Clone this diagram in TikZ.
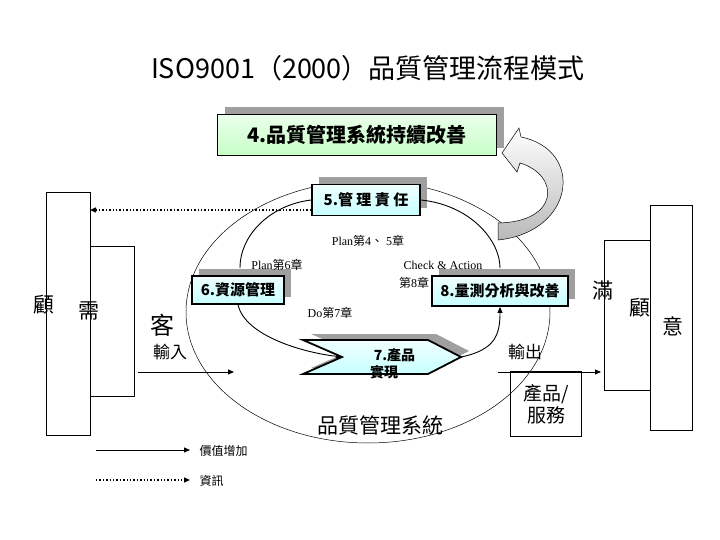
\documentclass[tikz,border=0pt]{standalone}
\usepackage{fontspec}
\setmainfont{Liberation Serif}
\newfontfamily\cjk{Noto Sans CJK TC}
\usetikzlibrary{shadows,arrows.meta}
\begin{document}
\begin{tikzpicture}[x=1pt,y=-1pt,
  sbox/.style={draw=black,line width=1.8pt,inner sep=0pt,
    top color=cyan!6,bottom color=cyan!22,
    drop shadow={shadow xshift=7pt,shadow yshift=7pt,fill=gray!75,opacity=1},
    font=\cjk\bfseries},
  lab/.style={font=\fontsize{12}{14}\selectfont},
  big/.style={font=\cjk\fontsize{21}{24}\selectfont},
  arr/.style={-{Triangle[length=6pt,width=5pt]},line width=0.9pt},
  loop/.style={line width=0.9pt},
  plain/.style={draw=black,line width=0.7pt}]
\useasboundingbox (0,0) rectangle (720,540);
\node[font=\cjk\fontsize{27}{30}\selectfont] (title) at (368,68) {ISO9001（2000）品質管理流程模式};
% outer ellipse
\draw[line width=0.5pt] (368,312) ellipse [x radius=182, y radius=131];
% feedback arrow
\shade[top color=white,bottom color=gray!55,draw=black,line width=0.5pt]
  (498,240) .. controls (575,232) and (585,150) .. (521,137) -- (519,128) -- (502,153) -- (517,172) -- (520,163)
  .. controls (560,175) and (560,222) .. (498,223) -- cycle;
\node[sbox,top color=green!8,bottom color=green!22,minimum width=279pt,minimum height=41pt,font=\cjk\bfseries\fontsize{20}{22}\selectfont] (b4) at (357,135) {4.品質管理系統持續改善};
\node[sbox,minimum width=108pt,minimum height=31pt,font=\cjk\bfseries\fontsize{15}{17}\selectfont] (b5) at (366,200) {5.管 理 責 任};
\node[sbox,minimum width=92pt,minimum height=28pt,font=\cjk\bfseries\fontsize{15}{17}\selectfont] (b6) at (238,290) {6.資源管理};
\node[sbox,minimum width=136pt,minimum height=30pt,font=\cjk\bfseries\fontsize{15}{17}\selectfont] (b8) at (500,291) {8.量測分析與改善};
% box 7
\coordinate (p1) at (303,340); \coordinate (p2) at (428,340); \coordinate (p3) at (461,357);
\coordinate (p4) at (428,374); \coordinate (p5) at (303,374); \coordinate (p6) at (342,357);
\fill[gray!75] ([shift={(8,-6)}]p1) -- ([shift={(8,-6)}]p2) -- ([shift={(8,-6)}]p3) -- ([shift={(8,-6)}]p4) -- ([shift={(8,-6)}]p5) -- ([shift={(8,-6)}]p6) -- cycle;
\draw[line width=1.8pt,top color=cyan!6,bottom color=cyan!22] (p1) -- (p2) -- (p3) -- (p4) -- (p5) -- (p6) -- cycle;
\node[font=\cjk\bfseries\fontsize{14}{17}\selectfont,align=center] (b7) at (384,364) {\hspace*{1.5em}7.產品\\實現};
% loop
\draw[loop] (b5.west) .. controls (270,205) and (240,235) .. (240,268);
\draw[loop,arr] (b6.south) .. controls (245,335) and (300,352) .. (p6);
\draw[loop,arr] (p3) .. controls (495,350) and (500,335) .. (b8.south);
\draw[loop] (b5.east) .. controls (470,205) and (500,240) .. (500,268);
% labels
\node[lab] (l1) at (368,241) {Plan\cjk 第\rmfamily4{\cjk 、} 5\cjk 章};
\node[lab] (l2) at (277,265) {Plan\cjk 第\rmfamily6\cjk 章};
\node[lab] (l3) at (443,265) {Check \& Action};
\node[lab] (l4) at (414,283) {\cjk 第\rmfamily8\cjk 章};
\node[lab] (l5) at (330,313) {Do\cjk 第\rmfamily7\cjk 章};
\node[big] (qms) at (380,425) {品質管理系統};
% left customer
\draw[plain] (46,192) rectangle (90,435);
\draw[plain] (90,246) rectangle (134,396);
\node[big] (c1) at (44,305) {顧};
\node[big] (c2) at (89,311) {需};
\node[big,font=\cjk\fontsize{24}{26}\selectfont] (c3) at (162,325) {客};
\node[big,font=\cjk\fontsize{17}{20}\selectfont] (in) at (170,352) {輸入};
\coordinate (ia) at (138,372); \coordinate (ib) at (234,372);
\draw[arr] (ia) -- (ib);
\coordinate (da) at (90,210);
\draw[-{Triangle[length=6pt,width=5pt]},line width=1.4pt,dotted] (b5.west|-0,210) -- (da);
% right customer
\draw[plain] (604,240) rectangle (650,390);
\draw[plain] (650,205) rectangle (692,430);
\node[big] (r1) at (603,290) {滿};
\node[big] (r2) at (640,308) {顧};
\node[big] (r3) at (673,326) {意};
\node[big,font=\cjk\fontsize{17}{20}\selectfont] (out) at (525,352) {輸出};
\node[plain,minimum width=71pt,minimum height=65pt,align=center,font=\cjk\fontsize{19}{22}\selectfont,inner sep=0pt] (ps) at (546,404) {產品/\\服務};
\coordinate (oa) at (498,372); \coordinate (ob) at (601,372);
\draw[arr] (oa) -- (ob);
% legend
\coordinate (g1) at (96,450); \coordinate (g2) at (190,450);
\coordinate (g3) at (96,480); \coordinate (g4) at (190,480);
\draw[arr] (g1) -- (g2);
\draw[-{Triangle[length=6pt,width=5pt]},line width=1.4pt,dotted] (g3) -- (g4);
\node[anchor=west,font=\cjk\fontsize{12}{14}\selectfont] (t1) at (196,451) {價值增加};
\node[anchor=west,font=\cjk\fontsize{12}{14}\selectfont] (t2) at (196,481) {資訊};
\end{tikzpicture}
\end{document}
